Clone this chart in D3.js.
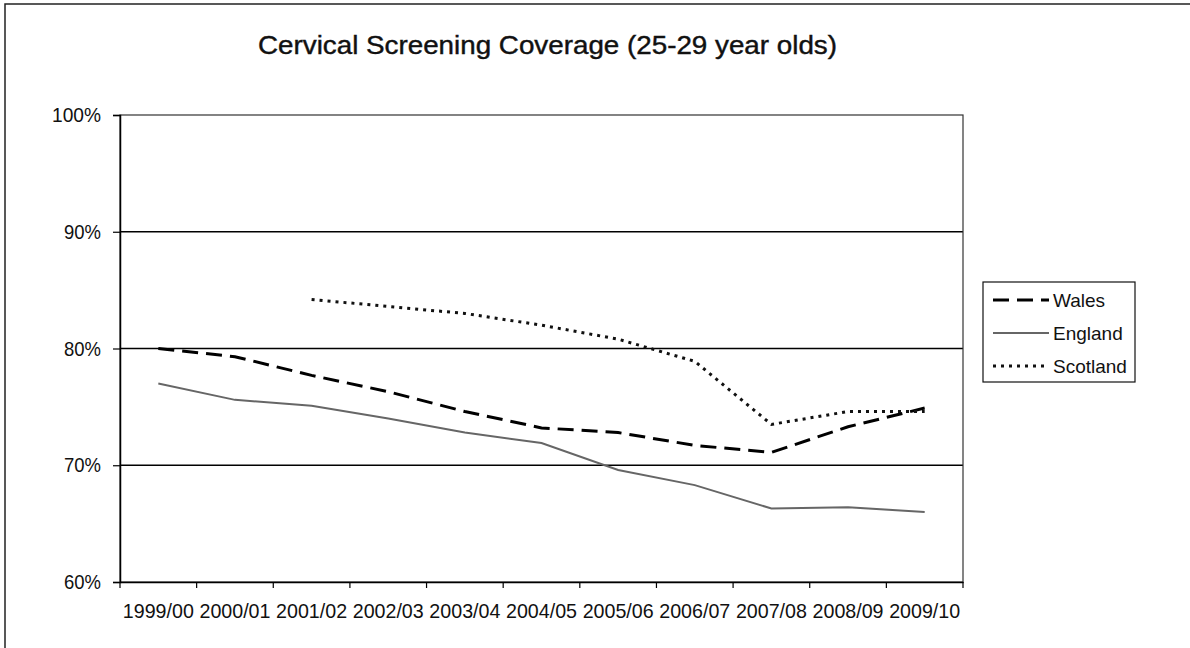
<!DOCTYPE html>
<html>
<head>
<meta charset="utf-8">
<script src="https://cdn.jsdelivr.net/npm/d3@7"></script>
<style>
  body { margin: 0; background: #fff; }
  text { font-family: "Liberation Sans", Arial, sans-serif; }
</style>
</head>
<body>
<svg id="chart"></svg>
<script>
/* データ */
let years = ["1999/00", "2000/01", "2001/02", "2002/03", "2003/04", "2004/05",
             "2005/06", "2006/07", "2007/08", "2008/09", "2009/10"];
let wales = [80.0, 79.3, 77.7, 76.3, 74.6, 73.2, 72.8, 71.7, 71.1, 73.3, 74.9];
let england = [77.0, 75.6, 75.1, 74.0, 72.8, 71.9, 69.6, 68.3, 66.3, 66.4, 66.0];
let scotland = [null, null, 84.2, 83.6, 83.0, 82.0, 80.8, 78.9, 73.5, 74.6, 74.6];
let yTicks = [60, 70, 80, 90, 100];

let series = [
  { name: "Wales", values: wales, color: "#000", width: 3, dash: "16,8" },
  { name: "England", values: england, color: "#666", width: 2, dash: null },
  { name: "Scotland", values: scotland, color: "#111", width: 3, dash: "3,5" },
];

let width = 1190, height = 648;
let margin = { left: 120, right: 227, top: 115, bottom: 66 };

let svg = d3.select("#chart").attr("width", width).attr("height", height);

/* 外枠 */
svg.append("rect")
  .attr("x", 5).attr("y", 4)
  .attr("width", width + 10).attr("height", height + 10)
  .attr("fill", "none").attr("stroke", "#222").attr("stroke-width", 1.5);

/* タイトル (元画像は縦長のフォントなので幅を合わせる) */
svg.append("text")
  .attr("x", 258).attr("y", 54)
  .attr("font-size", 25)
  .attr("textLength", 579)
  .attr("lengthAdjust", "spacingAndGlyphs")
  .attr("fill", "#111")
  .attr("stroke", "#111").attr("stroke-width", 0.4)
  .text("Cervical Screening Coverage (25-29 year olds)");

let xScale = d3.scaleBand()
  .domain(years)
  .range([margin.left, width - margin.right]);
let yScale = d3.scaleLinear()
  .domain([60, 100])
  .range([height - margin.bottom, margin.top]);

/* グリッド線 */
svg.append("g")
  .selectAll("line")
  .data(yTicks.filter(d => d > 60 && d < 100))
  .join("line")
  .attr("x1", margin.left).attr("x2", width - margin.right)
  .attr("y1", d => yScale(d)).attr("y2", d => yScale(d))
  .attr("stroke", "#000").attr("stroke-width", 1.5);

/* プロット枠 */
svg.append("rect")
  .attr("x", margin.left).attr("y", margin.top)
  .attr("width", width - margin.right - margin.left)
  .attr("height", height - margin.bottom - margin.top)
  .attr("fill", "none").attr("stroke", "#333").attr("stroke-width", 1.2);

/* x 軸 */
let xAxis = svg.append("g")
  .attr("transform", "translate(0," + (height - margin.bottom) + ")")
  .call(d3.axisBottom(xScale).tickSize(0).tickPadding(21));
xAxis.select(".domain").attr("stroke", "#000").attr("stroke-width", 1.5);
xAxis.selectAll("text")
  .attr("font-size", 21).attr("fill", "#111")
  .attr("font-family", "'Liberation Sans', Arial, sans-serif")
  .attr("textLength", 71)
  .attr("lengthAdjust", "spacingAndGlyphs");
// カテゴリの境界に目盛り
xAxis.selectAll(".sep")
  .data(d3.range(years.length + 1))
  .join("line")
  .attr("class", "sep")
  .attr("x1", i => margin.left + i * xScale.step())
  .attr("x2", i => margin.left + i * xScale.step())
  .attr("y1", 0).attr("y2", 6)
  .attr("stroke", "#000").attr("stroke-width", 1.2);

/* y 軸 */
let yAxis = svg.append("g")
  .attr("transform", "translate(" + margin.left + ",0)")
  .call(d3.axisLeft(yScale).tickValues(yTicks).tickSize(7).tickPadding(12)
    .tickFormat(d => d + "%"));
yAxis.select(".domain").attr("stroke", "#000").attr("stroke-width", 1.5);
yAxis.selectAll(".tick line").attr("stroke", "#000").attr("stroke-width", 1.2);
yAxis.selectAll("text")
  .attr("font-size", 21).attr("fill", "#111")
  .attr("font-family", "'Liberation Sans', Arial, sans-serif")
  .attr("textLength", d => d === 100 ? 49 : 37)
  .attr("lengthAdjust", "spacingAndGlyphs");

/* 折れ線 */
let line = d3.line()
  .defined(d => d != null)
  .x((d, i) => xScale(years[i]) + xScale.bandwidth() / 2)
  .y(d => yScale(d));

svg.append("g")
  .selectAll("path")
  .data(series)
  .join("path")
  .attr("d", d => line(d.values))
  .attr("fill", "none")
  .attr("stroke", d => d.color)
  .attr("stroke-width", d => d.width)
  .attr("stroke-dasharray", d => d.dash);

/* 凡例 */
let legend = svg.append("g").attr("transform", "translate(983,282)");
legend.append("rect")
  .attr("width", 152).attr("height", 100)
  .attr("fill", "#fff").attr("stroke", "#111").attr("stroke-width", 1.2);
let item = legend.selectAll(".item")
  .data(series)
  .join("g")
  .attr("class", "item")
  .attr("transform", (d, i) => "translate(0," + (18 + i * 33) + ")");
item.append("line")
  .attr("x1", 10).attr("x2", 66)
  .attr("stroke", d => d.color)
  .attr("stroke-width", d => d.width)
  .attr("stroke-dasharray", d => d.dash);
item.append("text")
  .attr("x", 70).attr("y", 7)
  .attr("font-size", 19).attr("fill", "#111")
  .text(d => d.name);
</script>
</body>
</html>
